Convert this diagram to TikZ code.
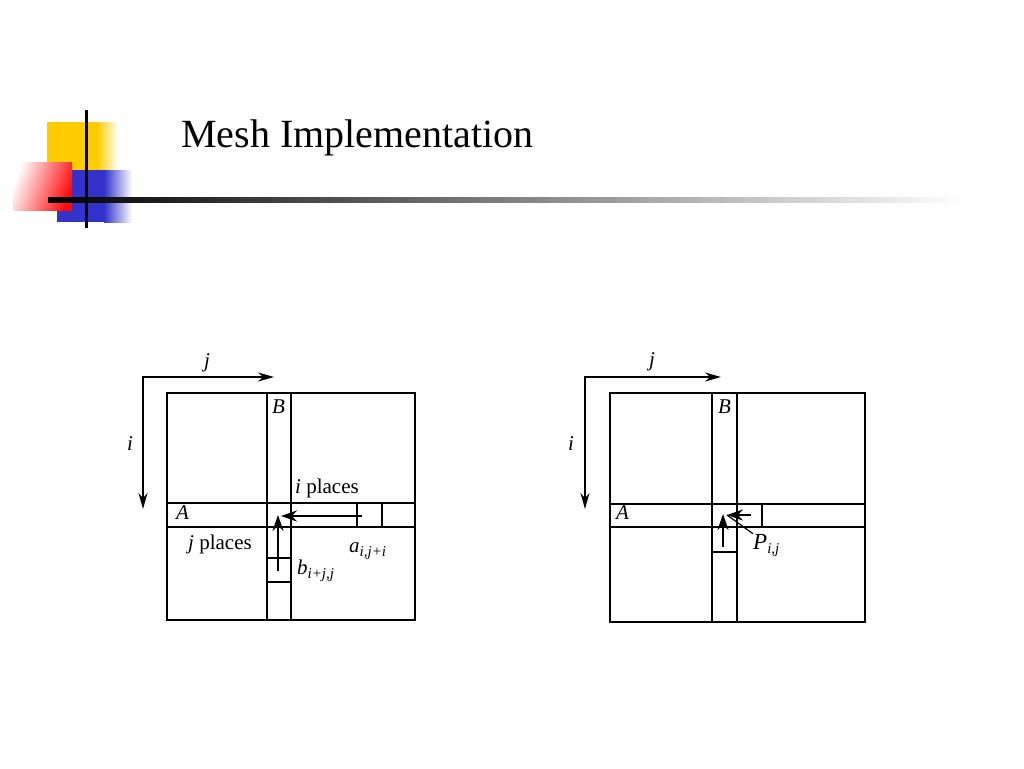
\documentclass[tikz,border=0pt]{standalone}
\usepackage{fontspec}
\setmainfont{Liberation Serif}
\usetikzlibrary{arrows.meta,positioning}

\definecolor{logoyellow}{RGB}{255,204,0}
\definecolor{logored}{RGB}{255,10,10}
\definecolor{logoblue}{RGB}{51,51,204}
\newcommand{\meshidx}[1]{\raisebox{-0.45ex}{\fontsize{15}{15}\selectfont\itshape #1}}

\begin{document}
\begin{tikzpicture}[x=1pt,y=-1pt,>={Stealth[length=16pt,width=9pt]},
  frame/.style={line width=2.8pt},
  grid line/.style={line width=1.7pt},
  axis/.style={line width=1.6pt},
  shift arrow/.style={->,line width=2.4pt,>={Stealth[length=16pt,width=11pt]}},
  lbl/.style={anchor=base west,inner sep=0pt,font=\fontsize{21}{21}\selectfont\itshape},
  txt/.style={anchor=base west,inner sep=0pt,font=\fontsize{21}{21}\selectfont}]

  \useasboundingbox (0,0) rectangle (1024,768);
  \fill[white] (0,0) rectangle (1024,768);

  % logo
  \fill[logoyellow] (47,122) rectangle (98,172);
  \shade[left color=logoyellow,right color=white] (97,122) rectangle (118,172);
  \fill[logoblue] (57,170) rectangle (105,222);
  \shade[left color=logoblue,right color=white] (104,170) rectangle (132,222);
  \shade[left color=white,right color=logored,shading angle=70] (13,162) rectangle (72,210);
  \shade[left color=black,right color=white] (48,197.5) rectangle (965,202.5);
  \draw[line width=3pt] (86,110) -- (86,228);

  % title
  \node[anchor=base west,inner sep=0pt,font=\fontsize{40}{40}\selectfont] (title) at (181,147) {Mesh Implementation};

  % left mesh
  \coordinate (L corner) at (143,377);
  \coordinate (L jend) at (274,377);
  \coordinate (L iend) at (143,509);
  \draw[axis,<->] (L jend) -- (L corner) -- (L iend);
  \node[lbl] (L j) at (204,367) {j};
  \node[lbl] (L i) at (127,450) {i};

  \draw[frame] (167,393) rectangle (415,620);
  \draw[grid line] (267,393) -- (267,620) (291,393) -- (291,620);
  \draw[grid line] (167,503) -- (415,503) (167,527) -- (415,527);
  \draw[grid line] (357,503) -- (357,527) (382,503) -- (382,527);
  \draw[grid line] (267,558) -- (291,558) (267,582) -- (291,582);

  \node[lbl] (L B) at (272,413) {B};
  \node[lbl] (L A) at (176,519) {A};
  \node[txt] (i places) at (295,493) {\textit{i} places};
  \node[txt] (j places) at (188,549) {\textit{j} places};
  \node[lbl] (a elem) at (349,552) {a\meshidx{i,j+i}};
  \node[lbl] (b elem) at (297,574) {b\meshidx{i+j,j}};

  \coordinate (a start) at (362,516);
  \coordinate (a end) at (281,516);
  \coordinate (b start) at (278,571);
  \coordinate (b end) at (278,515);
  \draw[shift arrow] (a start) -- (a end);
  \draw[shift arrow] (b start) -- (b end);

  % right mesh
  \coordinate (R corner) at (585,377);
  \coordinate (R jend) at (721,377);
  \coordinate (R iend) at (585,509);
  \draw[axis,<->] (R jend) -- (R corner) -- (R iend);
  \node[lbl] (R j) at (649,366) {j};
  \node[lbl] (R i) at (568,450) {i};

  \draw[frame] (610,393) rectangle (865,622);
  \draw[grid line] (712,393) -- (712,622) (737,393) -- (737,622);
  \draw[grid line] (610,504) -- (865,504) (610,527) -- (865,527);
  \draw[grid line] (762,504) -- (762,527);
  \draw[grid line] (712,552) -- (737,552);

  \node[lbl] (R B) at (718,413) {B};
  \node[lbl] (R A) at (616,519) {A};
  \node[lbl,font=\fontsize{23}{23}\selectfont\itshape] (P) at (753,549) {P\meshidx{i,j}};

  \coordinate (p tip) at (727,515);
  \coordinate (ra start) at (751,515);
  \coordinate (rb start) at (723,547);
  \coordinate (rb end) at (723,514);
  \draw[shift arrow] (ra start) -- (p tip);
  \draw[shift arrow] (rb start) -- (rb end);
  \draw[line width=1.2pt] (P.north west) -- (p tip);
\end{tikzpicture}
\end{document}
